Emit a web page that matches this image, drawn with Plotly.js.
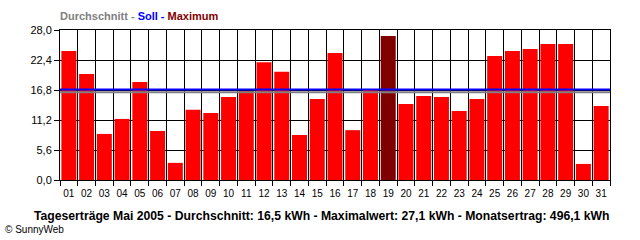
<!DOCTYPE html>
<html><head><meta charset="utf-8">
<script src="https://cdn.plot.ly/plotly-3.0.1.min.js"></script>
<style>html,body{margin:0;padding:0;background:#fff}#chart{width:640px;height:240px}</style>
</head><body><div id="chart"></div>
<script>
const days = ['01','02','03','04','05','06','07','08','09','10','11','12','13','14','15','16','17','18','19','20','21','22','23','24','25','26','27','28','29','30','31'];
const yields = [24.1,19.8,8.6,11.4,18.3,9.15,3.2,13.1,12.5,15.5,16.6,22.0,20.2,8.4,15.1,23.7,9.3,16.8,26.9,14.2,15.7,15.5,12.9,15.1,23.15,24.1,24.45,25.4,25.4,3.0,13.8];
const sollValue = 16.88;
const averageValue = 16.4;
const yTickVals = [0, 5.6, 11.2, 16.8, 22.4, 28];
const captionText = 'Tageserträge Mai 2005 - Durchschnitt: 16,5 kWh - Maximalwert: 27,1 kWh - Monatsertrag: 496,1 kWh';
const copyrightText = '© SunnyWeb';

const maxIndex = yields.indexOf(Math.max(...yields));
const barColors = yields.map((v, i) => i === maxIndex ? '#800000' : '#ff0000');
const FONT = 'Liberation Sans, Arial, sans-serif';

const data = [{
  type: 'bar', x: days, y: yields,
  marker: {color: barColors, line: {width: 0}},
  hoverinfo: 'skip'
}];

const layout = {
  width: 640, height: 240,
  margin: {l: 60, r: 30, t: 30, b: 60, pad: 0},
  paper_bgcolor: '#ffffff', plot_bgcolor: '#ffffff',
  separators: ',.',
  showlegend: false,
  bargap: 0.155,
  font: {family: FONT, color: '#000000', size: 11},
  title: {
    text: '<b><span style="color:#808080">Durchschnitt - </span><span style="color:#0000ff">Soll - </span><span style="color:#800000">Maximum</span></b>',
    xref: 'paper', x: 0, xanchor: 'left',
    yref: 'container', y: 1 - 16/240, yanchor: 'middle',
    font: {family: FONT, size: 11}
  },
  xaxis: {
    type: 'category',
    tickson: 'boundaries',
    tickangle: 0,
    ticklabelstandoff: 4,
    ticks: 'outside', ticklen: 5, tickcolor: '#000', tickwidth: 1,
    showgrid: true, gridcolor: '#000000', gridwidth: 1,
    showline: true, linecolor: '#000000', linewidth: 1, mirror: true,
    tickfont: {family: FONT, size: 10, color: '#000'},
    fixedrange: true
  },
  yaxis: {
    range: [0, 28],
    tickvals: yTickVals,
    tickformat: '.1f',
    ticks: 'outside', ticklen: 5, tickcolor: '#000', tickwidth: 1,
    showgrid: true, gridcolor: '#000000', gridwidth: 1,
    zeroline: false,
    showline: true, linecolor: '#000000', linewidth: 1, mirror: true,
    tickfont: {family: FONT, size: 11, color: '#000'},
    fixedrange: true
  },
  shapes: [
    {type: 'line', xref: 'paper', x0: 0, x1: 1, yref: 'y', y0: averageValue, y1: averageValue,
     line: {color: '#808080', width: 2}, layer: 'above'},
    {type: 'line', xref: 'paper', x0: 0, x1: 1, yref: 'y', y0: sollValue, y1: sollValue,
     line: {color: '#0000ff', width: 2}, layer: 'above'}
  ],
  annotations: [
    {text: '<b>' + captionText + '</b>', xref: 'paper', yref: 'paper',
     x: -0.0509, xanchor: 'left', y: -0.24, yanchor: 'middle', showarrow: false,
     font: {family: FONT, size: 12.2, color: '#000'}},
    {text: copyrightText, xref: 'paper', yref: 'paper',
     x: -0.1036, xanchor: 'left', y: -0.333, yanchor: 'middle', showarrow: false,
     font: {family: FONT, size: 10, color: '#000'}}
  ]
};

Plotly.newPlot('chart', data, layout, {displayModeBar: false, staticPlot: true});
</script>
</body></html>
